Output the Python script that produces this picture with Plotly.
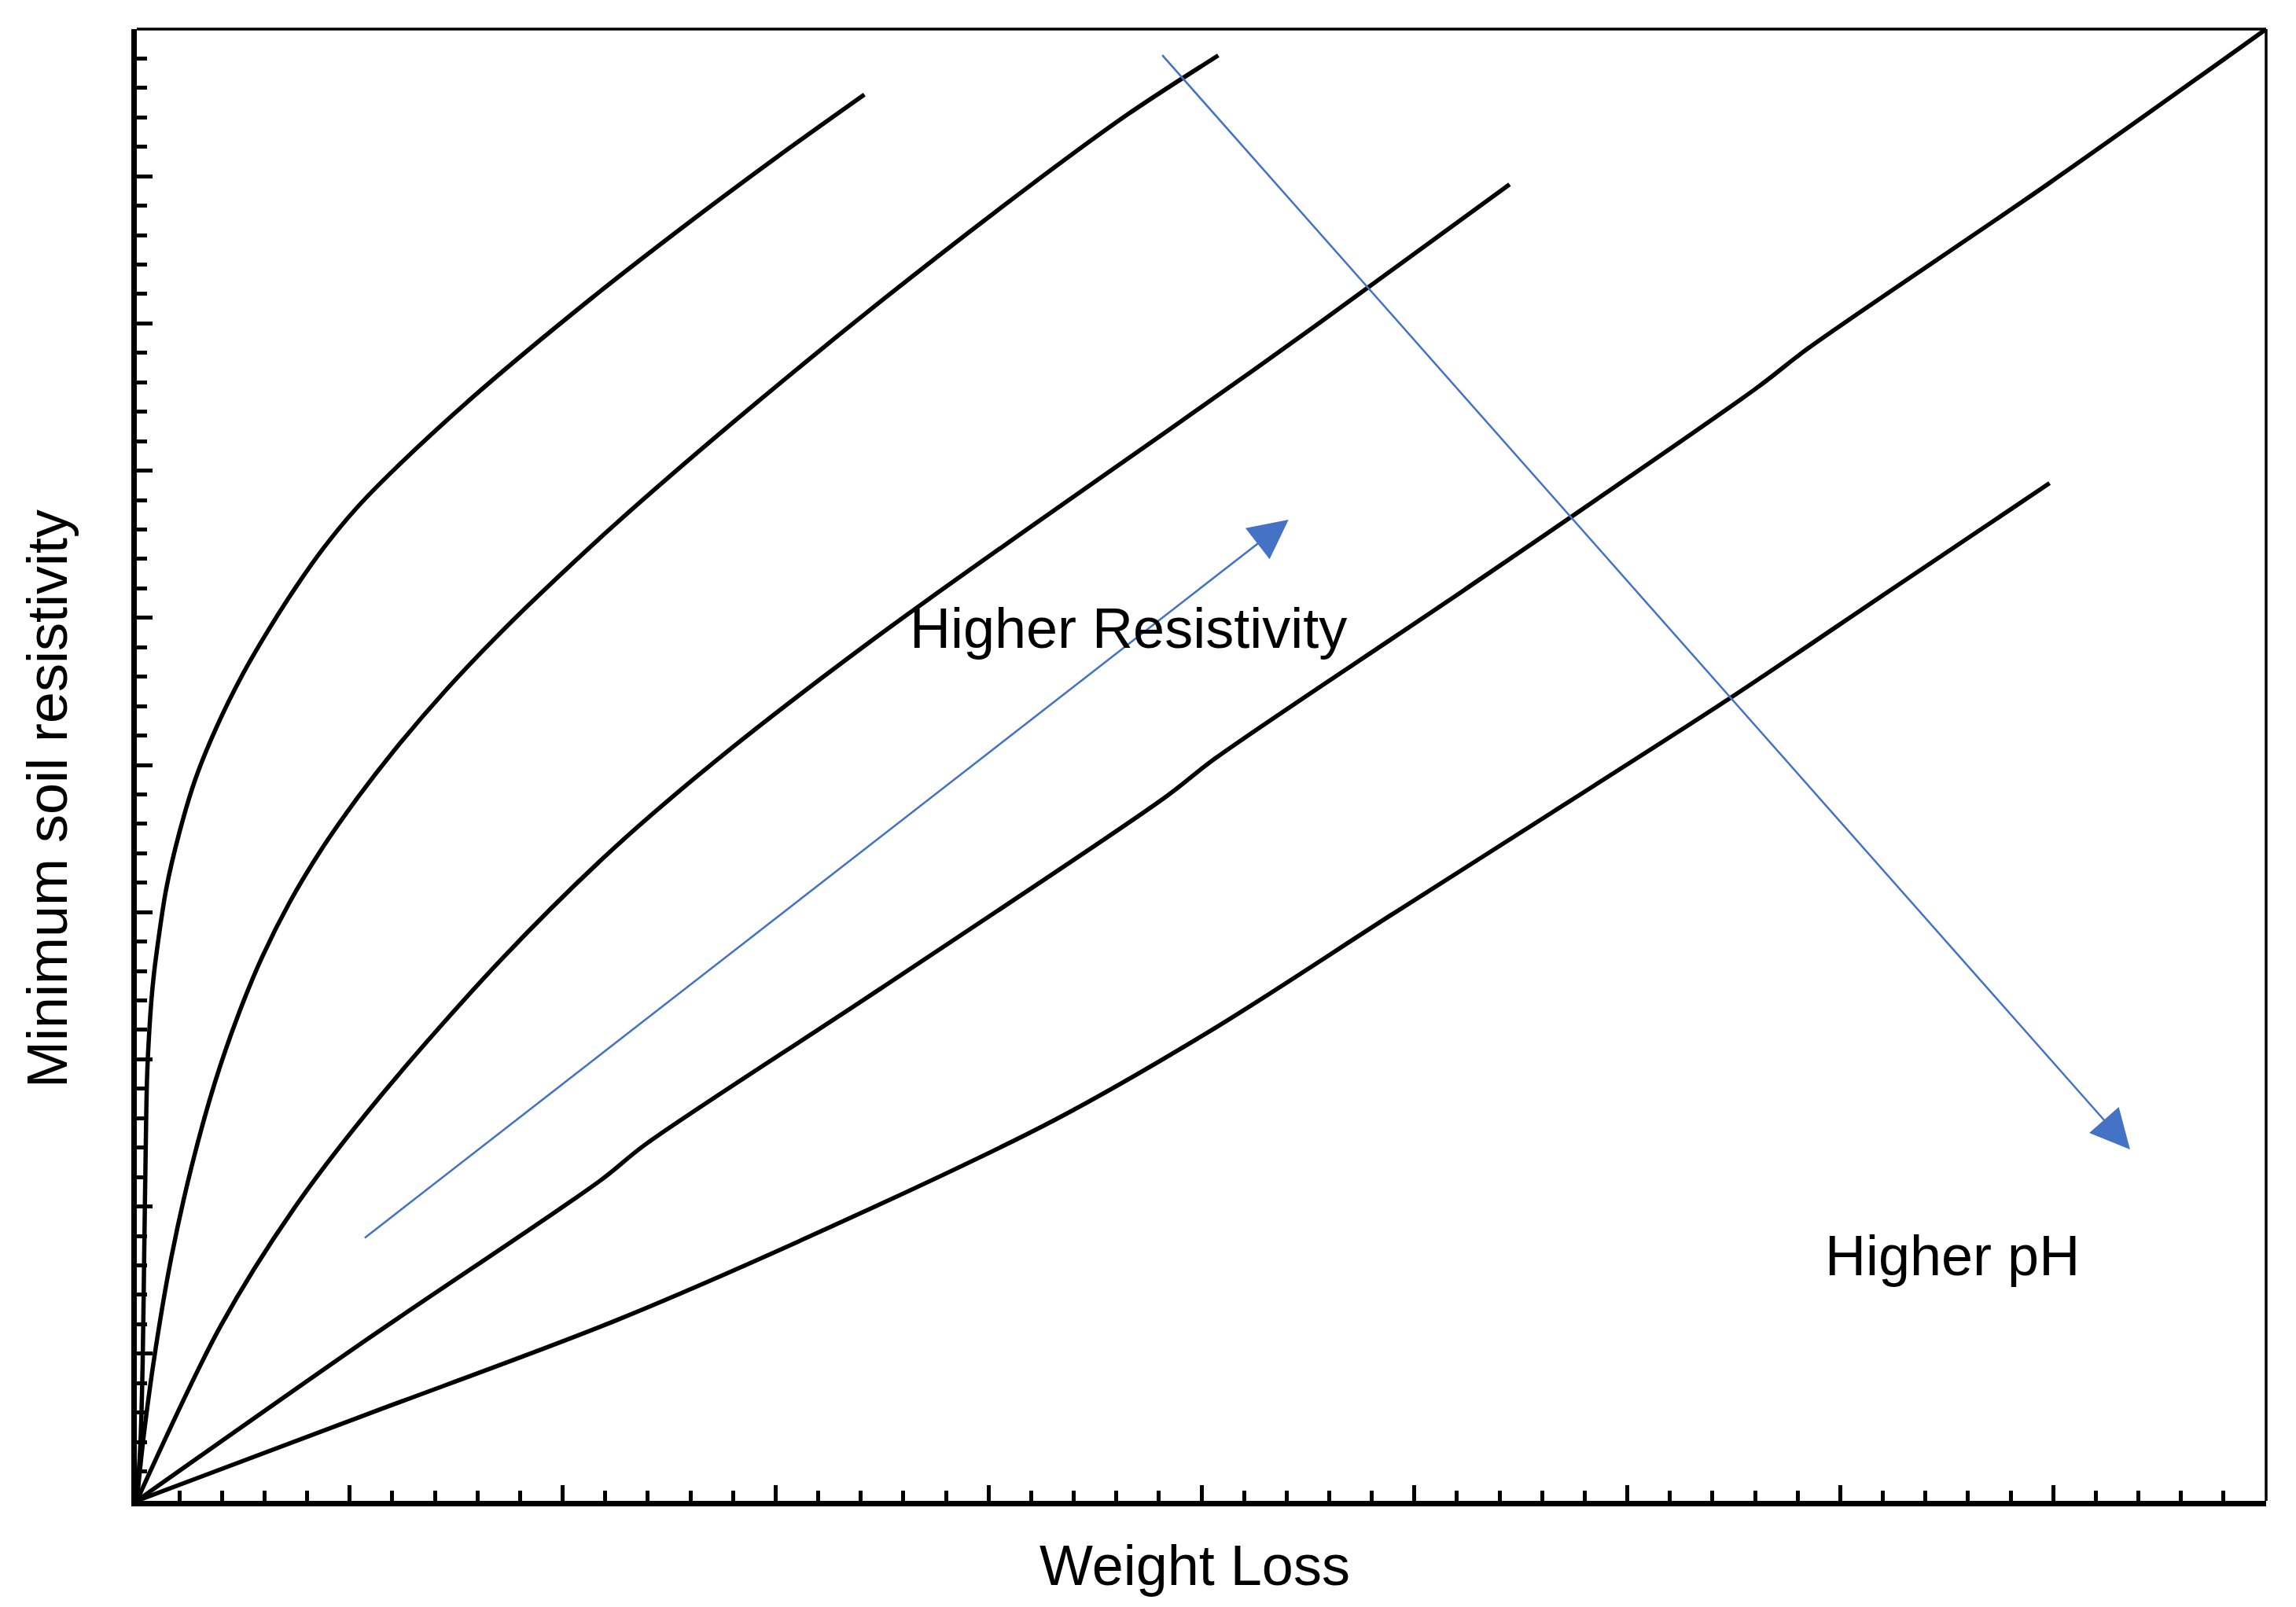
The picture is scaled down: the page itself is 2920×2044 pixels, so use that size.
import plotly.graph_objects as go

# Curve data (Weight Loss vs Minimum soil resistivity)
c1_x = [0, 0.0172, 0.0275, 0.0344, 0.0412, 0.0481, 0.0584, 0.0687, 0.0790, 0.090, 0.138, 0.201, 0.275,
        0.374, 0.496, 0.618, 0.743, 0.876, 1.031, 1.215, 1.584, 2.137, 2.598, 3.004, 3.417]
c1_y = [0, 0.398, 0.945, 1.642, 2.338, 2.876, 3.188, 3.404, 3.561, 3.693, 4.157, 4.547, 4.904,
        5.256, 5.613, 5.917, 6.200, 6.472, 6.744, 7.016, 7.507, 8.173, 8.691, 9.128, 9.555]

c2_x = [0, 0.035, 0.090, 0.164, 0.256, 0.367, 0.478, 0.588, 0.717, 0.865, 1.038, 1.208, 1.455, 1.702,
        1.897, 2.248, 2.797, 3.485, 4.172, 4.653, 5.079]
c2_y = [0, 0.473, 1.050, 1.668, 2.264, 2.844, 3.308, 3.693, 4.065, 4.422, 4.780, 5.098, 5.514, 5.890,
        6.166, 6.637, 7.324, 8.140, 8.911, 9.420, 9.821]

c3_x = [0, 0.392, 0.735, 1.148, 1.711, 2.247, 2.797, 3.485, 4.172, 4.859, 5.546, 6.447]
c3_y = [0, 1.184, 1.980, 2.756, 3.677, 4.443, 5.119, 5.881, 6.592, 7.289, 7.995, 8.945]

c4_x = [0, 1.079, 2.179, 2.385, 3.485, 4.825, 5.065, 6.234, 7.608, 7.849, 8.983, 10.0]
c4_y = [0, 1.095, 2.179, 2.418, 3.473, 4.776, 5.045, 6.189, 7.562, 7.831, 8.955, 10.0]

c5_x = [0, 1.079, 2.247, 3.347, 4.309, 5.065, 5.890, 6.646, 7.471, 8.227, 8.983]
c5_y = [0, 0.587, 1.224, 1.920, 2.587, 3.214, 3.980, 4.677, 5.443, 6.179, 6.915]

curves = [(c1_x, c1_y), (c2_x, c2_y), (c3_x, c3_y), (c4_x, c4_y), (c5_x, c5_y)]

# Trend arrows: (tail x, tail y, head x, head y)
arrow_resistivity = [1.065, 1.781, 5.409, 6.667]
arrow_ph = [4.811, 9.831, 9.361, 2.388]

labels = ["Higher Resistivity", "Higher pH"]
label_x = [4.655, 8.526]
label_y = [5.93, 1.669]

x_title = "Weight Loss"
y_title = "Minimum soil resistivity"

FONT = "Liberation Sans, Arial, sans-serif"
BLUE = "#4472C4"

fig = go.Figure()
for cx, cy in curves:
    fig.add_trace(go.Scatter(x=cx, y=cy, mode="lines",
                             line=dict(color="black", width=5.5, shape="spline",
                                       smoothing=0.9, simplify=False),
                             hoverinfo="skip", showlegend=False))

for a in (arrow_resistivity, arrow_ph):
    fig.add_annotation(x=a[2], y=a[3], ax=a[0], ay=a[1], xref="x", yref="y",
                       axref="x", ayref="y", text="", showarrow=True,
                       arrowhead=2, arrowsize=4, arrowwidth=2.5, arrowcolor=BLUE,
                       standoff=0, startstandoff=0)

for t, lx, ly in zip(labels, label_x, label_y):
    fig.add_annotation(x=lx, y=ly, xref="x", yref="y", text=t, showarrow=False,
                       font=dict(family=FONT, size=72, color="black"),
                       xanchor="center", yanchor="middle")

fig.add_annotation(x=0.497, y=-0.0438, xref="paper", yref="paper", text=x_title,
                   showarrow=False, font=dict(family=FONT, size=72, color="black"),
                   xanchor="center", yanchor="middle")
fig.add_annotation(x=-0.0421, y=0.477, xref="paper", yref="paper", text=y_title,
                   showarrow=False, textangle=-90,
                   font=dict(family=FONT, size=72, color="black"),
                   xanchor="center", yanchor="middle")

# thin top and right frame lines
fig.add_shape(type="line", xref="paper", yref="paper", x0=0, x1=1, y0=1, y1=1,
              line=dict(color="black", width=3.5))
fig.add_shape(type="line", xref="paper", yref="paper", x0=1, x1=1, y0=0, y1=1,
              line=dict(color="black", width=3.5))

axis_common = dict(range=[0, 10], dtick=1, tick0=0, ticks="inside", ticklen=20,
                   tickwidth=5, tickcolor="black", showticklabels=False,
                   showgrid=False, zeroline=False, showline=True, linecolor="black",
                   linewidth=7,
                   minor=dict(dtick=0.2, tick0=0, ticks="inside", ticklen=13,
                              tickwidth=5, tickcolor="black", showgrid=False))
fig.update_xaxes(**axis_common)
fig.update_yaxes(**axis_common)

fig.update_layout(width=2920, height=2044,
                  margin=dict(l=174, r=38, t=37, b=135),
                  plot_bgcolor="white", paper_bgcolor="white",
                  font=dict(family=FONT, color="black"))

fig.write_html("out.html", config={"displayModeBar": False},
               post_script="document.body.style.margin='0';")
